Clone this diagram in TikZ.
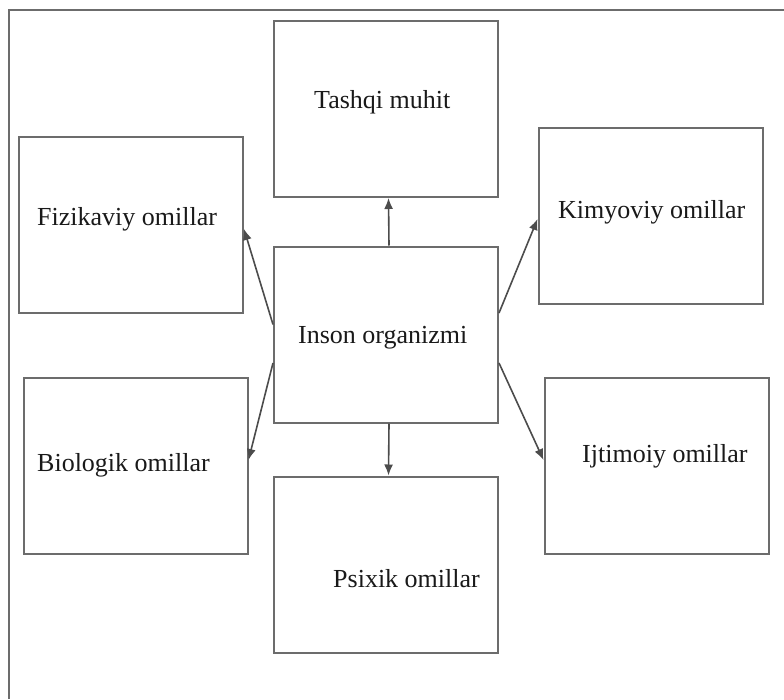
\documentclass[tikz,border=0pt]{standalone}
\usepackage{fontspec}
\setmainfont{Liberation Serif}
\usetikzlibrary{arrows.meta}
\tikzset{
  box/.style={draw=gray!85!black, line width=2pt, minimum width=224pt, minimum height=176pt, inner sep=0pt},
  lbl/.style={font=\fontsize{26}{30}\selectfont, text=black!90, inner sep=0pt, anchor=base west},
  arr/.style={-{Latex[length=11pt,width=9pt]}, line width=1.6pt, draw=black!70},
}
\begin{document}
\begin{tikzpicture}[x=1pt,y=-1pt]
\useasboundingbox (0,0) rectangle (784,699);
\draw[gray!85!black, line width=2pt] (9,699) -- (9,10) -- (784,10);
\node[box] (tashqi) at (385.5,109) {};
\node[box] (fiz) at (131,225) {};
\node[box] (kim) at (650.5,216) {};
\node[box] (inson) at (386,334.5) {};
\node[box] (bio) at (135.5,465.5) {};
\node[box] (ijt) at (656.5,465.5) {};
\node[box] (psixik) at (385.5,564.5) {};
\node[lbl] (tashqiT) at (314,108) {Tashqi muhit};
\node[lbl] (fizT) at (37,225) {Fizikaviy omillar};
\node[lbl] (kimT) at (558,218) {Kimyoviy omillar};
\node[lbl] (insonT) at (298,343) {Inson organizmi};
\node[lbl] (bioT) at (37,471) {Biologik omillar};
\node[lbl] (ijtT) at (582,462) {Ijtimoiy omillar};
\node[lbl] (psixikT) at (333,587) {Psixik omillar};
\draw[arr] ([xshift=3pt]inson.north) -- ([xshift=3pt]tashqi.south);
\draw[arr] ([xshift=3pt]inson.south) -- ([xshift=3pt]psixik.north);
\draw[arr] ([yshift=10pt]inson.west) -- ([yshift=-4pt]fiz.east);
\draw[arr] ([yshift=21.5pt]inson.east) -- ([yshift=-3pt]kim.west);
\draw[arr] ([yshift=-28.5pt]inson.west) -- ([yshift=5.5pt]bio.east);
\draw[arr] ([yshift=-28.5pt]inson.east) -- ([yshift=5.5pt]ijt.west);
\end{tikzpicture}
\end{document}
